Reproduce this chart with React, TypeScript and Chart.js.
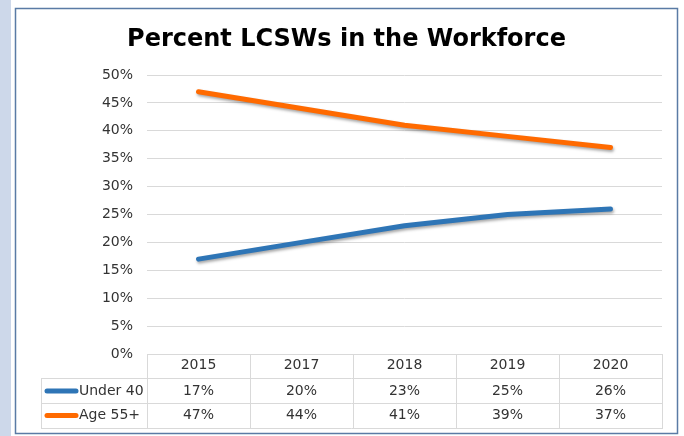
import React, { useEffect, useRef } from "react";
import { Chart, registerables } from "chart.js";

Chart.register(...registerables);

const TITLE = "Percent LCSWs in the Workforce";
const YEARS = ["2015", "2017", "2018", "2019", "2020"];
const SERIES_NAMES = ["Under 40", "Age 55+"];
const UNDER_40 = [17, 20, 23, 25, 26];
const AGE_55 = [47, 44, 41, 39, 37];
const COLORS = ["#2e75b6", "#ff6a00"];

const W = 684;
const H = 436;
const FONT = "'DejaVu Sans', Verdana, sans-serif";
const TEXT = "#333333";
const GRID = "#d9d9d9";
const FS = 14;

const framePlugin = {
  id: "frame",
  beforeDraw(chart: any) {
    const ctx = chart.ctx;
    ctx.save();
    ctx.fillStyle = "#ffffff";
    ctx.fillRect(0, 0, W, H);
    ctx.fillStyle = "#cdd8ea";
    ctx.fillRect(0, 0, 11, H);
    ctx.strokeStyle = "#5a7ba5";
    ctx.lineWidth = 1.5;
    ctx.strokeRect(15.5, 8.5, 662, 425);
    ctx.fillStyle = "#000000";
    ctx.font = `bold 24px ${FONT}`;
    ctx.textAlign = "center";
    ctx.textBaseline = "alphabetic";
    ctx.fillText(TITLE, 346.5, 46);
    ctx.restore();
  },
  beforeDatasetDraw(chart: any) {
    const ctx = chart.ctx;
    ctx.save();
    ctx.shadowColor = "rgba(0,0,0,0.35)";
    ctx.shadowBlur = 3;
    ctx.shadowOffsetX = 1;
    ctx.shadowOffsetY = 2;
  },
  afterDatasetDraw(chart: any) {
    chart.ctx.restore();
  },
  afterDraw(chart: any) {
    const ctx = chart.ctx;
    const area = chart.chartArea;
    const xs = chart.scales.x;
    const n = YEARS.length;
    const colW = (area.right - area.left) / n;
    const top = Math.round(area.bottom);
    const r1 = top + 24;
    const r2 = top + 49;
    const r3 = top + 74;
    const legendLeft = 41;
    ctx.save();
    ctx.strokeStyle = GRID;
    ctx.lineWidth = 1;
    ctx.beginPath();
    ctx.moveTo(area.left, top + 0.5);
    ctx.lineTo(area.right, top + 0.5);
    for (const y of [r1, r2, r3]) {
      ctx.moveTo(legendLeft, y + 0.5);
      ctx.lineTo(area.right, y + 0.5);
    }
    for (let i = 0; i <= n; i++) {
      const x = Math.round(area.left + i * colW) + 0.5;
      ctx.moveTo(x, top);
      ctx.lineTo(x, r3 + 1);
    }
    ctx.moveTo(legendLeft + 0.5, r1);
    ctx.lineTo(legendLeft + 0.5, r3 + 1);
    ctx.stroke();

    ctx.font = `${FS}px ${FONT}`;
    ctx.textBaseline = "middle";
    const rows = [UNDER_40, AGE_55];
    const rowY = [r1 + 13, r2 + 12.5];
    rows.forEach((vals, ri) => {
      ctx.textAlign = "center";
      ctx.fillStyle = TEXT;
      vals.forEach((v, i) => {
        ctx.fillText(v + "%", xs.getPixelForValue(i), rowY[ri]);
      });
      ctx.strokeStyle = COLORS[ri];
      ctx.lineWidth = 5;
      ctx.lineCap = "round";
      ctx.beginPath();
      ctx.moveTo(47, rowY[ri]);
      ctx.lineTo(76, rowY[ri]);
      ctx.stroke();
      ctx.textAlign = "left";
      ctx.fillText(SERIES_NAMES[ri], 79, rowY[ri]);
    });
    ctx.restore();
  },
};

export default function App() {
  const ref = useRef<HTMLCanvasElement | null>(null);
  useEffect(() => {
    if (!ref.current) return;
    const mk = (i: number, data: number[]) => ({
      label: SERIES_NAMES[i],
      data,
      borderColor: COLORS[i],
      backgroundColor: COLORS[i],
      borderWidth: 5,
      pointRadius: 0,
      borderCapStyle: "round" as const,
      borderJoinStyle: "round" as const,
      tension: 0,
    });
    const chart = new Chart(ref.current, {
      type: "line",
      data: {
        labels: YEARS,
        datasets: [mk(0, UNDER_40), mk(1, AGE_55)],
      },
      options: {
        animation: false,
        responsive: false,
        devicePixelRatio: 1,
        layout: { padding: { left: 0, top: 75, right: 22, bottom: 0 } },
        plugins: {
          legend: { display: false },
          title: { display: false },
          tooltip: { enabled: false },
        },
        scales: {
          x: {
            offset: true,
            grid: { display: false, drawTicks: false },
            border: { display: false },
            ticks: {
              color: TEXT,
              font: { family: FONT, size: FS },
              padding: 3,
              maxRotation: 0,
            },
            afterFit: (s: any) => {
              s.height = 82;
            },
          },
          y: {
            min: 0,
            max: 50,
            grid: { color: GRID, drawTicks: false },
            border: { display: false },
            ticks: {
              stepSize: 5,
              color: TEXT,
              font: { family: FONT, size: FS },
              padding: 14,
              callback: (v: any) => v + "%",
            },
            afterFit: (s: any) => {
              s.width = 147;
            },
          },
        },
      },
      plugins: [framePlugin],
    });
    return () => chart.destroy();
  }, []);
  return (
    <div style={{ position: "absolute", left: 0, top: 0, width: W, height: H }}>
      <canvas ref={ref} width={W} height={H} style={{ display: "block", width: W, height: H }} />
    </div>
  );
}
